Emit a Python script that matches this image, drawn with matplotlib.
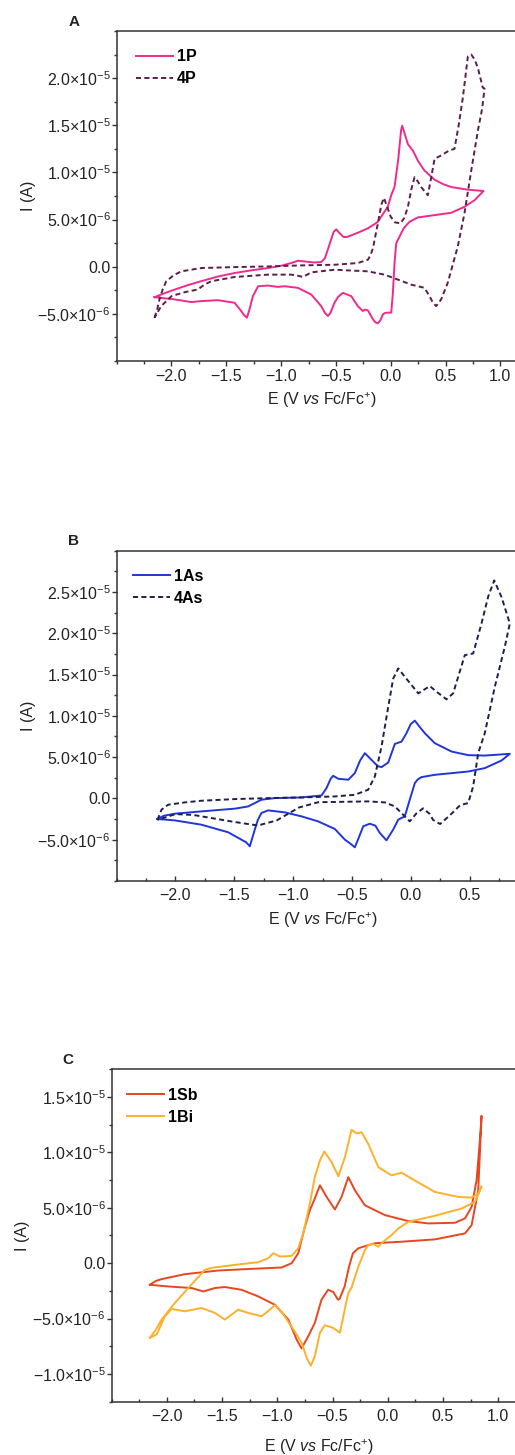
import numpy as np
import matplotlib
matplotlib.use("Agg")
import matplotlib.pyplot as plt
from matplotlib.ticker import MultipleLocator, FuncFormatter

plt.rcParams['font.family'] = ['Liberation Sans', 'DejaVu Sans']
plt.rcParams['mathtext.fontset'] = 'custom'
plt.rcParams['mathtext.rm'] = 'Liberation Sans'
plt.rcParams['mathtext.it'] = 'Liberation Sans:italic'
plt.rcParams['mathtext.bf'] = 'Liberation Sans:bold'

# ---- panel A (current in uA, loop: forward sweep then reverse sweep)
e_1P = [-2.155, -2.05, -1.97, -1.85, -1.73, -1.58, -1.425, -1.27, -1.12, -1.0, -0.908, -0.847,
        -0.78, -0.70, -0.634, -0.60, -0.56, -0.52, -0.497, -0.47, -0.43, -0.40, -0.30, -0.208,
        -0.15, -0.117, -0.07, -0.026, 0.005, 0.035, 0.07, 0.095, 0.105, 0.125, 0.157, 0.203,
        0.25, 0.308, 0.40, 0.48, 0.552, 0.704, 0.847,
        0.765, 0.673, 0.552, 0.40, 0.248, 0.172, 0.12, 0.096, 0.05, 0.035, 0.02, 0.005,
        -0.026, -0.05, -0.071, -0.095, -0.117, -0.14, -0.162, -0.208, -0.235, -0.254, -0.30,
        -0.36, -0.436, -0.48, -0.513, -0.55, -0.573, -0.60, -0.634, -0.725, -0.847, -0.969,
        -1.03, -1.12, -1.21, -1.257, -1.29, -1.312, -1.34, -1.364, -1.425, -1.577, -1.729,
        -1.82, -1.97, -2.155]
i_1P = [-3.23, -2.75, -2.42, -1.95, -1.54, -1.05, -0.67, -0.38, -0.14, 0.1, 0.39, 0.63,
        0.55, 0.45, 0.49, 0.9, 2.3, 3.7, 3.97, 3.6, 3.15, 3.15, 3.6, 4.07,
        4.5, 4.77, 5.6, 6.35, 7.6, 8.45, 11.5, 14.5, 14.95, 14.2, 13.0, 12.3,
        11.2, 10.2, 9.23, 8.75, 8.45, 8.17, 8.03,
        7.05, 6.35, 5.72, 5.47, 5.23, 4.77, 4.1, 3.55, 2.49, 0.39, -2.77, -4.87,
        -4.87, -4.9, -5.05, -5.7, -6.0, -5.9, -5.58, -4.63, -4.55, -4.7, -4.18,
        -3.12, -2.77, -3.2, -3.82, -4.9, -5.23, -4.9, -4.18, -2.95, -2.24, -2.07,
        -2.14, -2.0, -2.07, -3.12, -4.6, -5.4, -5.1, -4.7, -3.82, -3.55, -3.65,
        -3.75, -3.47, -3.23]

e_4P = [-2.155, -2.13, -2.11, -2.08, -2.048, -1.98, -1.91, -1.73, -1.425, -1.12, -0.817, -0.51,
        -0.30, -0.208, -0.185, -0.162, -0.117, -0.085, -0.062, -0.04, 0.0, 0.04, 0.09, 0.125,
        0.157, 0.19, 0.218, 0.25, 0.278, 0.339, 0.37, 0.40, 0.46, 0.53, 0.582, 0.62, 0.658,
        0.704, 0.735, 0.765, 0.795, 0.84, 0.856,
        0.835, 0.795, 0.735, 0.673, 0.612, 0.52, 0.46, 0.415, 0.385, 0.354, 0.308, 0.187,
        0.066, -0.057, -0.208, -0.513, -0.725, -0.80, -0.85, -0.908, -1.12, -1.425, -1.637,
        -1.70, -1.76, -1.88, -2.0, -2.094, -2.155]
i_4P = [-5.4, -4.5, -3.47, -2.4, -1.54, -0.9, -0.49, -0.14, -0.04, 0.03, 0.14, 0.21,
        0.39, 0.74, 1.2, 1.97, 4.6, 6.6, 7.3, 6.6, 5.3, 4.7, 4.6, 5.2,
        6.35, 8.3, 9.5, 9.0, 8.45, 7.58, 9.5, 11.44, 11.8, 12.3, 12.5, 15.0, 17.9,
        22.3, 22.5, 22.0, 21.1, 19.0, 18.9,
        16.8, 14.4, 10.2, 5.65, 2.14, -1.72, -3.47, -4.18, -3.8, -3.12, -2.24, -1.9,
        -1.37, -0.84, -0.49, -0.32, -0.6, -1.09, -0.95, -0.84, -0.84, -1.09, -1.54,
        -1.9, -2.42, -2.7, -3.12, -4.18, -5.4]

# ---- panel B
e_1As = [-2.153, -2.1, -2.006, -1.78, -1.496, -1.382, -1.27, -1.155, -0.929, -0.758, -0.716,
         -0.68, -0.659, -0.616, -0.531, -0.475, -0.43, -0.39, -0.333, -0.28, -0.248, -0.191,
         -0.135, -0.078, -0.036, 0.0, 0.035, 0.08, 0.12, 0.205, 0.347, 0.489, 0.63, 0.843,
         0.772, 0.63, 0.489, 0.205, 0.092, 0.06, 0.035, -0.008, -0.05, -0.106, -0.149,
         -0.206, -0.263, -0.30, -0.348, -0.404, -0.44, -0.475, -0.52, -0.56, -0.645, -0.787,
         -0.929, -1.07, -1.212, -1.269, -1.30, -1.326, -1.368, -1.40, -1.44, -1.552, -1.78,
         -2.006, -2.153]
i_1As = [-2.49, -2.1, -1.85, -1.57, -1.24, -0.97, -0.16, 0.04, 0.12, 0.36, 1.25,
         2.4, 2.74, 2.38, 2.26, 3.07, 4.6, 5.48, 4.67, 3.9, 3.79, 4.35,
         6.6, 6.88, 7.9, 9.0, 9.42, 8.6, 7.9, 6.69, 5.68, 5.24, 5.19, 5.4,
         4.59, 3.67, 3.26, 2.86, 2.58, 2.3, 1.85, -0.16, -2.17, -2.57, -3.78,
         -5.07, -4.18, -3.3, -3.06, -3.38, -4.7, -5.92, -5.4, -4.99, -3.7, -2.78,
         -2.17, -1.69, -1.45, -1.76, -2.6, -3.78, -5.8, -5.3, -4.99, -4.1, -3.18,
         -2.66, -2.49]

e_4As = [-2.153, -2.119, -2.062, -1.92, -1.78, -1.496, -1.212, -0.929, -0.645, -0.475, -0.362,
         -0.305, -0.248, -0.191, -0.149, -0.106, -0.05, 0.064, 0.163, 0.22, 0.304, 0.361,
         0.46, 0.531, 0.602, 0.66, 0.71, 0.772, 0.843,
         0.80, 0.715, 0.63, 0.574, 0.531, 0.489, 0.42, 0.34, 0.25, 0.19, 0.163, 0.106,
         0.049, -0.008, -0.064, -0.135, -0.22, -0.361, -0.787, -0.95, -1.14, -1.30, -1.52,
         -1.85, -2.0, -2.153]
i_4As = [-2.6, -1.36, -0.76, -0.48, -0.28, -0.08, 0.04, 0.12, 0.24, 0.44, 1.05,
         2.66, 6.28, 11.1, 14.5, 15.75, 14.73, 12.73, 13.6, 12.92, 12.0, 12.73,
         17.35, 17.56, 21.18, 24.5, 26.4, 24.4, 21.18,
         18.36, 13.5, 7.9, 5.48, 1.45, -0.56, -0.82, -1.95, -3.1, -2.6, -1.9, -1.2,
         -1.8, -2.78, -1.97, -0.97, -0.48, -0.36, -0.46, -1.1, -2.67, -3.28, -2.8,
         -2.0, -1.9, -2.6]

# ---- panel C
e_1Sb = [-2.154, -2.1, -2.048, -1.837, -1.534, -1.233, -0.961, -0.87, -0.81, -0.75, -0.705,
         -0.66, -0.614, -0.553, -0.478, -0.418, -0.357, -0.297, -0.207, -0.025, 0.187, 0.368,
         0.609, 0.70, 0.76, 0.805, 0.835, 0.85,
         0.82, 0.76, 0.70, 0.428, 0.126, -0.116, -0.266, -0.315, -0.35, -0.39, -0.435,
         -0.45, -0.493, -0.54, -0.60, -0.66, -0.72, -0.78, -0.825, -0.90, -1.022, -1.172,
         -1.323, -1.475, -1.565, -1.67, -1.776, -1.987, -2.154]
i_1Sb = [-1.95, -1.6, -1.44, -0.99, -0.66, -0.51, -0.39, 0.0, 0.9, 3.29, 4.79,
         5.84, 7.03, 5.98, 4.85, 5.98, 7.77, 6.58, 5.23, 4.34, 3.8, 3.59,
         3.65, 4.04, 5.08, 7.48, 11.07, 13.3,
         6.58, 3.44, 2.69, 2.15, 1.94, 1.80, 1.35, 0.9, -0.3, -2.1, -3.2,
         -3.3, -2.6, -2.4, -3.3, -5.39, -6.59, -7.7, -6.89, -5.09, -3.75, -3.0,
         -2.4, -2.15, -2.24, -2.55, -2.24, -2.1, -1.95]

e_1Bi = [-2.154, -2.1, -2.048, -1.928, -1.806, -1.656, -1.595, -1.384, -1.172, -1.082, -1.036,
         -0.976, -0.87, -0.81, -0.765, -0.705, -0.66, -0.614, -0.574, -0.508, -0.447, -0.388,
         -0.327, -0.282, -0.236, -0.176, -0.085, 0.035, 0.126, 0.217, 0.428, 0.64, 0.76,
         0.82, 0.85,
         0.79, 0.67, 0.428, 0.187, 0.096, 0.035, -0.04, -0.085, -0.13, -0.176, -0.206,
         -0.266, -0.327, -0.357, -0.402, -0.433, -0.493, -0.569, -0.614, -0.66, -0.696,
         -0.735, -0.78, -0.84, -0.90, -0.96, -1.022, -1.08, -1.142, -1.263, -1.353, -1.475,
         -1.565, -1.686, -1.837, -1.957, -2.018, -2.093, -2.154]
i_1Bi = [-6.73, -6.0, -5.09, -3.59, -2.24, -0.6, -0.42, -0.15, 0.09, 0.45, 0.9,
         0.6, 0.66, 1.35, 2.69, 5.39, 7.77, 9.27, 10.08, 9.12, 7.84, 9.57,
         12.03, 11.72, 11.81, 10.77, 8.67, 7.93, 8.17, 7.63, 6.43, 5.98, 5.92,
         6.28, 6.94,
         5.53, 4.94, 4.28, 3.73, 3.14, 2.54, 1.94, 1.49, 1.73, 1.64, 1.19,
         -0.3, -2.2, -2.69, -4.79, -6.28, -5.84, -5.6, -6.28, -8.38, -9.25,
         -8.5, -7.18, -6.2, -5.3, -4.4, -3.8, -4.3, -4.79, -4.49, -4.19, -5.09,
         -4.49, -4.04, -4.34, -4.13, -4.79, -6.44, -6.73]

legend_A = ['1P', '4P']
legend_B = ['1As', '4As']
legend_C = ['1Sb', '1Bi']
xticks_A = [-2.0, -1.5, -1.0, -0.5, 0.0, 0.5, 1.0]
xticks_B = [-2.0, -1.5, -1.0, -0.5, 0.0, 0.5]
xticks_C = [-2.0, -1.5, -1.0, -0.5, 0.0, 0.5, 1.0]
yticks_A = [-5e-6, 0.0, 5e-6, 1e-5, 1.5e-5, 2e-5]
yticks_B = [-5e-6, 0.0, 5e-6, 1e-5, 1.5e-5, 2e-5, 2.5e-5]
yticks_C = [-1e-5, -5e-6, 0.0, 5e-6, 1e-5, 1.5e-5]

W, H = 515, 1455
fig = plt.figure(figsize=(W / 100, H / 100), dpi=100)
TXT = '#222222'


def sci_fmt(v, pos):
    if abs(v) < 1e-12:
        return '0.0'
    exp = int(np.floor(np.log10(abs(v)) + 1e-9))
    mant = v / 10 ** exp
    return r'$%.1f{\times}10^{%d}\;\;$' % (mant, exp)


def x_fmt(v, pos):
    return ('%.1f' % (round(v, 1) + 0.0)).replace('-', '\u2212')


def make_axes(px_left, px_top, px_w, px_h):
    return fig.add_axes([px_left / W, 1 - (px_top + px_h) / H, px_w / W, px_h / H])


def style(ax, xlim, ylim, xticks, yticks, xdir, xlab_y):
    ax.set_xlim(*xlim)
    ax.set_ylim(*ylim)
    ax.set_xticks(xticks)
    ax.set_yticks(yticks)
    ax.xaxis.set_minor_locator(MultipleLocator(0.25))
    ax.yaxis.set_minor_locator(MultipleLocator(2.5e-6))
    ax.yaxis.set_major_formatter(FuncFormatter(sci_fmt))
    ax.xaxis.set_major_formatter(FuncFormatter(x_fmt))
    ax.tick_params(axis='y', which='major', direction='out', length=3.6, width=1.0,
                   labelsize=11.5, pad=0.8, colors='#333333', labelcolor=TXT)
    ax.tick_params(axis='y', which='minor', direction='out', length=2.2, width=1.0,
                   colors='#333333')
    ax.tick_params(axis='x', which='major', direction=xdir, length=3.6, width=1.0,
                   labelsize=11.5, pad=5 if xdir == 'in' else 2, colors='#333333',
                   labelcolor=TXT)
    ax.tick_params(axis='x', which='minor', direction=xdir, length=2.2, width=1.0,
                   colors='#333333')
    for s in ax.spines.values():
        s.set_color('#333333')
        s.set_linewidth(1.1)
    ax.set_xlabel(r'E (V $\mathit{vs}$ Fc/Fc$^{+}$)', fontsize=11.5, color=TXT)
    ax.set_ylabel('I (A)', fontsize=11.5, color=TXT, va='center')
    ax.yaxis.set_label_coords(-0.215, 0.5)
    ax.xaxis.set_label_coords(0.5, xlab_y)


def add_legend(ax, lx, ly):
    ax.legend(loc='upper left', bbox_to_anchor=(lx, ly), frameon=False,
              handlelength=2.3, handletextpad=0.25, labelspacing=0.45,
              borderpad=0, borderaxespad=0,
              prop={'weight': 'bold', 'size': 11.5})


scale = 1e-6

# A
axA = make_axes(116.7, 31, 411, 330)
axA.plot(e_1P, np.array(i_1P) * scale, color='#f02a8c', lw=1.4, label=legend_A[0])
axA.plot(e_4P, np.array(i_4P) * scale, color='#5a1e4c', lw=1.4, ls=(0, (2.6, 1.7)),
         label=legend_A[1])
style(axA, (-2.5, 1.25), (-1e-5, 2.5e-5), xticks_A, yticks_A, 'out', -0.088)
add_legend(axA, 0.048, 0.945)

# B
axB = make_axes(116.7, 550.7, 411.6, 330.3)
axB.plot(e_1As, np.array(i_1As) * scale, color='#2035dc', lw=1.4, label=legend_B[0])
axB.plot(e_4As, np.array(i_4As) * scale, color='#1c2050', lw=1.4, ls=(0, (2.6, 1.7)),
         label=legend_B[1])
style(axB, (-2.5, 1.0), (-1e-5, 3e-5), xticks_B, yticks_B, 'in', -0.088)
add_legend(axB, 0.04, 0.945)

# C
axC = make_axes(111.7, 1069.3, 414, 332.4)
axC.plot(e_1Sb, np.array(i_1Sb) * scale, color='#e8461e', lw=1.4, label=legend_C[0])
axC.plot(e_1Bi, np.array(i_1Bi) * scale, color='#fdb02c', lw=1.4, label=legend_C[1])
style(axC, (-2.5, 1.25), (-1.25e-5, 1.75e-5), xticks_C, yticks_C, 'in', -0.108)
add_legend(axC, 0.038, 0.945)

for lab, x, y in [('A', 74, 22.5), ('B', 74, 541), ('C', 68, 1060)]:
    fig.text(x / W, 1 - y / H, lab, fontsize=11, fontweight='bold', color=TXT,
             ha='center', va='center')

fig.savefig('out.png', dpi=100)
